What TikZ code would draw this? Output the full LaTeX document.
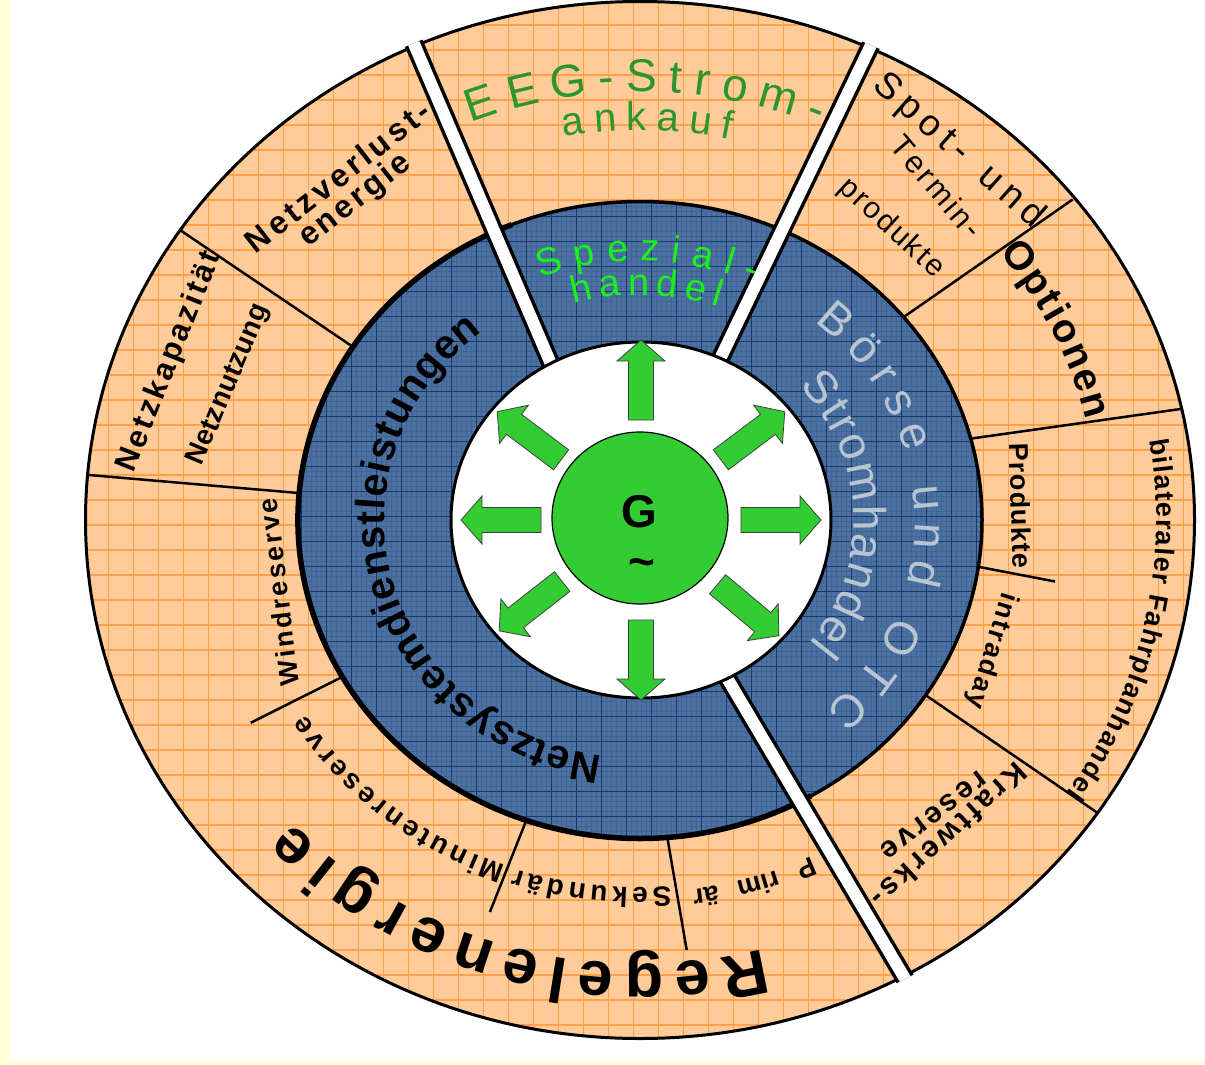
\documentclass[tikz,border=0pt]{standalone}
\usepackage{fontspec}
\setmainfont{Liberation Sans}
\usetikzlibrary{decorations.text}
\definecolor{bgyellow}{HTML}{FFFFDC}
\definecolor{peach}{HTML}{FFCC99}
\definecolor{peachgrid}{HTML}{FFA04A}
\definecolor{steel}{HTML}{4C71A2}
\definecolor{steelminor}{HTML}{3F6595}
\definecolor{steelmajor}{HTML}{163A6C}
\definecolor{ggreen}{HTML}{33CC33}
\definecolor{eeggreen}{HTML}{2B962B}
\definecolor{limegreen}{HTML}{1AF01A}
\definecolor{boersegray}{HTML}{BAC5D2}
% text along an elliptic arc round the centre: radius, start, end, format, text
\newcommand\ArcText[5]{%
  \begin{scope}[shift={(640,-520)}]
  \path[decorate,decoration={text along path,text align=fit to path,text={|#4|#5}}]
    (#2:{1.07*#1} and {#1}) arc[start angle=#2,end angle=#3,x radius={1.07*#1},y radius=#1];
  \end{scope}}
% text spread on a straight line: cx, cy (page), angle, length, baseline offset, format, text
\newcommand\LineText[7]{%
  \begin{scope}[shift={(#1,-#2)},rotate=#3]
  \path[decorate,decoration={text along path,text align=fit to path,text={|#6|#7}}]
    ({-#4/2},{-#5}) -- ({#4/2},{-#5});
  \end{scope}}
\newcommand\GArrow[1]{%
  \begin{scope}[shift={(641,-520)},rotate=#1]
  \filldraw[garrow] (100,-12.5) -- (159,-12.5) -- (159,-24) -- (180,0) -- (159,24) -- (159,12.5) -- (100,12.5) -- cycle;
  \end{scope}}
\begin{document}
\begin{tikzpicture}[x=1pt,y=1pt,
  divider/.style={line width=2.5,draw=black},
  gapborder/.style={line width=19,draw=black},
  gapwhite/.style={line width=12,draw=white},
  ringline/.style={line width=3,draw=black},
  garrow/.style={fill=ggreen,draw=black!75,line width=0.8},
  fsbold/.style={font=\bfseries\fontsize{#1}{#1}\selectfont}]
\useasboundingbox (0,0) rectangle (1205,-1065);
\fill[bgyellow] (0,0) rectangle (1205,-1065);
\fill[white] (11,0) rectangle (1205,-1060);
\coordinate (cen) at (640,-520);
% ---------- outer ring ----------
\begin{scope}
  \clip (cen) ellipse [x radius=554.5,y radius=518.5];
  \fill[peach] (0,0) rectangle (1205,-1065);
  \draw[peachgrid,line width=1.2,xstep=25pt,ystep=25pt,shift={(8.3,0)}] (-30,30) grid (1230,-1090);
\end{scope}
% dividers (outer point, inner point)
\coordinate (d1o) at (180,-230);    \coordinate (d1i) at (362,-353);
\coordinate (d2o) at (89,-475);     \coordinate (d2i) at (310,-494);
\coordinate (d3o) at (250.7,-722.8);\coordinate (d3i) at (356,-670);
\coordinate (d4o) at (489.9,-912);  \coordinate (d4i) at (528,-816);
\coordinate (d5o) at (686.7,-950);  \coordinate (d5i) at (665.5,-827);
\coordinate (d6o) at (1097.7,-813); \coordinate (d6i) at (921,-692);
\coordinate (d7o) at (1055,-581.5); \coordinate (d7i) at (969,-565);
\coordinate (d8o) at (1180.6,-409); \coordinate (d8i) at (961,-440);
\coordinate (d9o) at (1072.6,-199.5);\coordinate (d9i) at (898,-321);
\foreach \k in {1,...,9} {\draw[divider] (d\k o) -- (d\k i);}
\draw[ringline] (cen) ellipse [x radius=554.5,y radius=518.5];
% ---------- blue ring ----------
\begin{scope}
  \clip (cen) ellipse [x radius=342,y radius=318.5];
  \fill[steel] (250,-150) rectangle (1030,-890);
  \draw[steelminor,line width=0.6,xstep=5pt,ystep=5pt,shift={(1.7,-16.7)}] (240,-120) grid (1040,-900);
  \draw[steelmajor,line width=1.2,xstep=25pt,ystep=25pt,shift={(1.7,-16.7)}] (240,-120) grid (1040,-900);
\end{scope}
\draw[line width=3.5,draw=black] (cen) ellipse [x radius=342,y radius=318.5];
\begin{scope}[shift={(640,-520)}]
  \draw[line width=5.5,draw=black] (112:342 and 318.5) arc[start angle=112,end angle=300,x radius=342,y radius=318.5];
\end{scope}
% ---------- gaps ----------
\coordinate (g1o) at (407,-27.6);  \coordinate (g1i) at (557,-378);
\coordinate (g2o) at (878.7,-29);  \coordinate (g2i) at (713.3,-373);
\coordinate (g3o) at (914.2,-994.2);\coordinate (g3i) at (719.8,-665.8);
\begin{scope}
  \clip (cen) ellipse [x radius=557.5,y radius=521.5];
  \foreach \k in {1,2,3} {\draw[gapborder] (g\k o) -- (g\k i);}
  \foreach \k in {1,2,3} {\draw[gapwhite] (g\k o) -- (g\k i);}
\end{scope}
% ---------- white centre ----------
\filldraw[fill=white,ringline] (641,-520) ellipse [x radius=190,y radius=178];
\filldraw[fill=ggreen,draw=black,line width=1.2] (640,-518) ellipse [x radius=88,y radius=86];
\foreach \a in {0,37,90,143,180,218,270,320} {\GArrow{\a}}
\node[fsbold=46] (gen) at (639,-512) {G};
\node[fsbold=46] (tilde) at (642,-568) {\textasciitilde};
% ---------- texts in the blue ring ----------
\ArcText{239}{261.5}{128}{\bfseries\fontsize{41}{41}\selectfont}{Netzsystemdienstleistungen}
\ArcText{257}{50.6}{-47.6}{\color{boersegray}\fontsize{46}{46}\selectfont}{Börse und OTC}
\ArcText{200}{42}{-38}{\color{boersegray}\fontsize{46}{46}\selectfont}{Stromhandel}
\ArcText{259}{111}{66}{\color{limegreen}\fontsize{38}{38}\selectfont}{Spezial-}
\ArcText{225}{106}{71}{\color{limegreen}\fontsize{38}{38}\selectfont}{handel}
% ---------- texts in the outer ring ----------
\ArcText{428}{111.7}{67}{\color{eeggreen}\fontsize{46}{46}\selectfont}{EEG-Strom-}
\ArcText{390}{100.5}{77.5}{\color{eeggreen}\fontsize{40}{40}\selectfont}{ankauf}
\ArcText{429}{38.5}{13.5}{\bfseries\fontsize{40}{40}\selectfont}{Optionen}
\ArcText{483}{9.5}{-34.5}{\bfseries\fontsize{27}{27}\selectfont}{bilateraler Fahrplanhandel}
\ArcText{444}{-75}{-137}{\bfseries\fontsize{63}{63}\selectfont}{Regelenergie}
\ArcText{368}{250}{212}{\bfseries\fontsize{28}{28}\selectfont}{Minutenreserve}
\ArcText{368}{-85.5}{-108.5}{\bfseries\fontsize{28}{28}\selectfont}{Sekundär}
\begin{scope}[shift={(640,-520)}]
  \path[decorate,decoration={text along path,text align=fit to path stretching spaces,
    text={|\bfseries\fontsize{27}{27}\selectfont|P rim är}}]
    (-64.5:{1.07*373} and 373) arc[start angle=-64.5,end angle=-82.5,x radius={1.07*373},y radius=373];
\end{scope}
\LineText{338}{177}{38}{225}{10.5}{\bfseries\fontsize{32}{32}\selectfont}{Netzverlust-}
\LineText{354}{199}{38}{132}{10.5}{\bfseries\fontsize{32}{32}\selectfont}{energie}
\LineText{168}{361}{68.3}{235}{10}{\bfseries\fontsize{31}{31}\selectfont}{Netzkapazität}
\LineText{227}{384}{67.2}{172}{9}{\bfseries\fontsize{28}{28}\selectfont}{Netznutzung}
\LineText{279}{592}{97}{188}{9}{\bfseries\fontsize{27}{27}\selectfont}{Windreserve}
\LineText{1020}{506}{-88.3}{125}{9}{\bfseries\fontsize{27}{27}\selectfont}{Produkte}
\LineText{992.5}{651}{-107}{120}{8}{\bfseries\fontsize{27}{27}\selectfont}{intraday}
\LineText{949}{835}{222.5}{200}{10}{\bfseries\fontsize{30}{30}\selectfont}{Kraftwerks-}
\LineText{932.7}{814}{217.6}{127}{7}{\bfseries\fontsize{30}{30}\selectfont}{reserve}
\LineText{961}{148.5}{-41.3}{215}{13}{\fontsize{37}{37}\selectfont}{Spot- und}
\LineText{936.5}{187}{-49.4}{124}{10.5}{\fontsize{31}{31}\selectfont}{Termin-}
\LineText{893}{227}{-42.5}{132}{10}{\fontsize{30}{30}\selectfont}{produkte}
\end{tikzpicture}
\end{document}
